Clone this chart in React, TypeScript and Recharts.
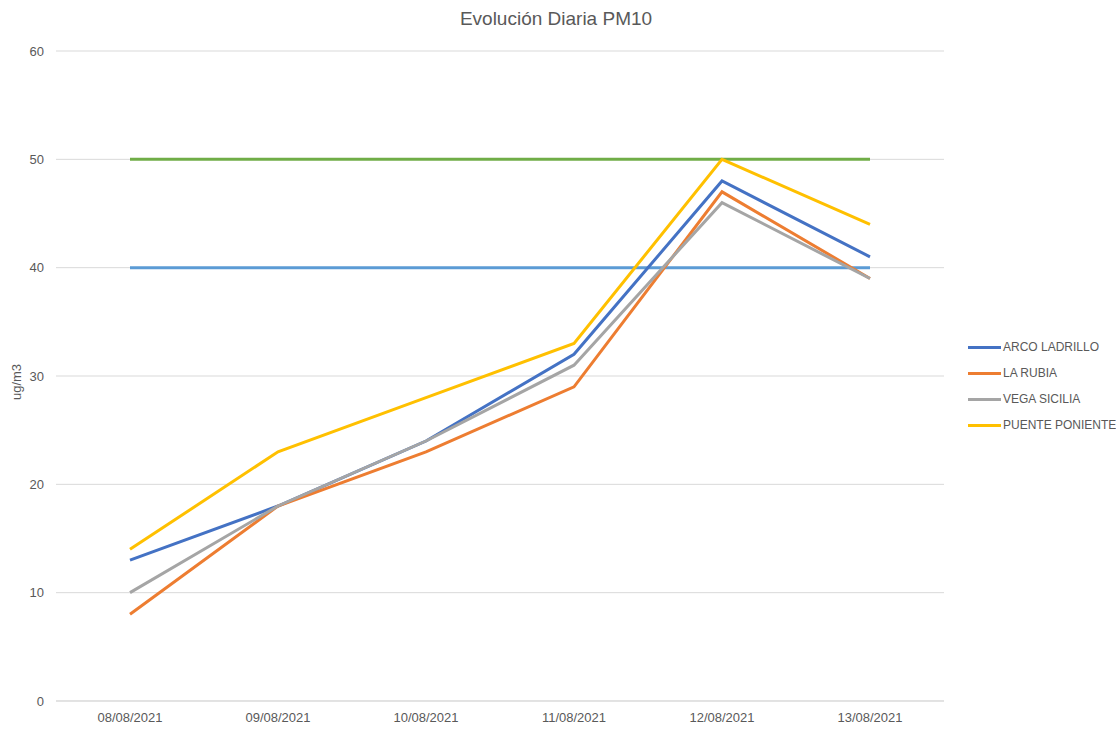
import { LineChart, Line, XAxis, YAxis, CartesianGrid } from 'recharts'

const fechas = ['08/08/2021', '09/08/2021', '10/08/2021', '11/08/2021', '12/08/2021', '13/08/2021']
const arcoLadrillo = [13, 18, 24, 32, 48, 41]
const laRubia = [8, 18, 23, 29, 47, 39]
const vegaSicilia = [10, 18, 24, 31, 46, 39]
const puentePoniente = [14, 23, 28, 33, 50, 44]
const limiteDiario = [50, 50, 50, 50, 50, 50]
const limiteAnual = [40, 40, 40, 40, 40, 40]
const yTicks = [0, 10, 20, 30, 40, 50, 60]

const series = [
  { key: 'ARCO LADRILLO', values: arcoLadrillo, color: '#4472C4' },
  { key: 'LA RUBIA', values: laRubia, color: '#ED7D31' },
  { key: 'VEGA SICILIA', values: vegaSicilia, color: '#A5A5A5' },
  { key: 'PUENTE PONIENTE', values: puentePoniente, color: '#FFC000' }
]

const data = fechas.map((fecha, i) => {
  const row: Record<string, string | number> = {
    fecha,
    limite50: limiteDiario[i],
    limite40: limiteAnual[i]
  }
  series.forEach((s) => {
    row[s.key] = s.values[i]
  })
  return row
})

const FONT = '"Liberation Sans", Arial, sans-serif'

export default function App() {
  return (
    <div
      style={{
        position: 'absolute',
        left: 0,
        top: 0,
        width: 1116,
        height: 729,
        background: '#fff',
        fontFamily: FONT
      }}
    >
      <div
        style={{
          position: 'absolute',
          top: 8,
          left: 0,
          width: 1112,
          textAlign: 'center',
          fontSize: 19,
          color: '#595959'
        }}
      >
        Evolución Diaria PM10
      </div>
      <LineChart
        width={1116}
        height={729}
        data={data}
        margin={{ top: 51, right: 172, left: 0, bottom: 0 }}
      >
        <CartesianGrid stroke="#d9d9d9" vertical={false} />
        <XAxis
          dataKey="fecha"
          height={28}
          padding={{ left: 74, right: 74 }}
          tickLine={false}
          axisLine={{ stroke: '#d9d9d9' }}
          tick={{ fontSize: 13, fill: '#595959', fontFamily: FONT }}
          tickMargin={6}
          interval={0}
        />
        <YAxis
          width={56}
          domain={[0, 60]}
          ticks={yTicks}
          tickLine={false}
          axisLine={false}
          tickMargin={6}
          tick={{ fontSize: 13, fill: '#595959', fontFamily: FONT }}
          label={{
            value: 'ug/m3',
            angle: -90,
            position: 'insideLeft',
            offset: 16,
            dy: 6,
            style: { fontSize: 13, fill: '#595959', fontFamily: FONT, textAnchor: 'middle' }
          }}
        />
        <Line
          dataKey="limite50"
          stroke="#70AD47"
          strokeWidth={3}
          dot={false}
          isAnimationActive={false}
        />
        <Line
          dataKey="limite40"
          stroke="#5B9BD5"
          strokeWidth={3}
          dot={false}
          isAnimationActive={false}
        />
        {series.map((s) => (
          <Line
            key={s.key}
            dataKey={s.key}
            stroke={s.color}
            strokeWidth={3}
            dot={false}
            isAnimationActive={false}
          />
        ))}
      </LineChart>
      <div style={{ position: 'absolute', left: 968, top: 334 }}>
        {series.map((s) => (
          <div
            key={s.key}
            style={{
              display: 'flex',
              alignItems: 'center',
              height: 26,
              fontSize: 12,
              color: '#595959',
              whiteSpace: 'nowrap'
            }}
          >
            <span style={{ width: 33, height: 3, background: s.color, marginRight: 2 }} />
            {s.key}
          </div>
        ))}
      </div>
    </div>
  )
}
